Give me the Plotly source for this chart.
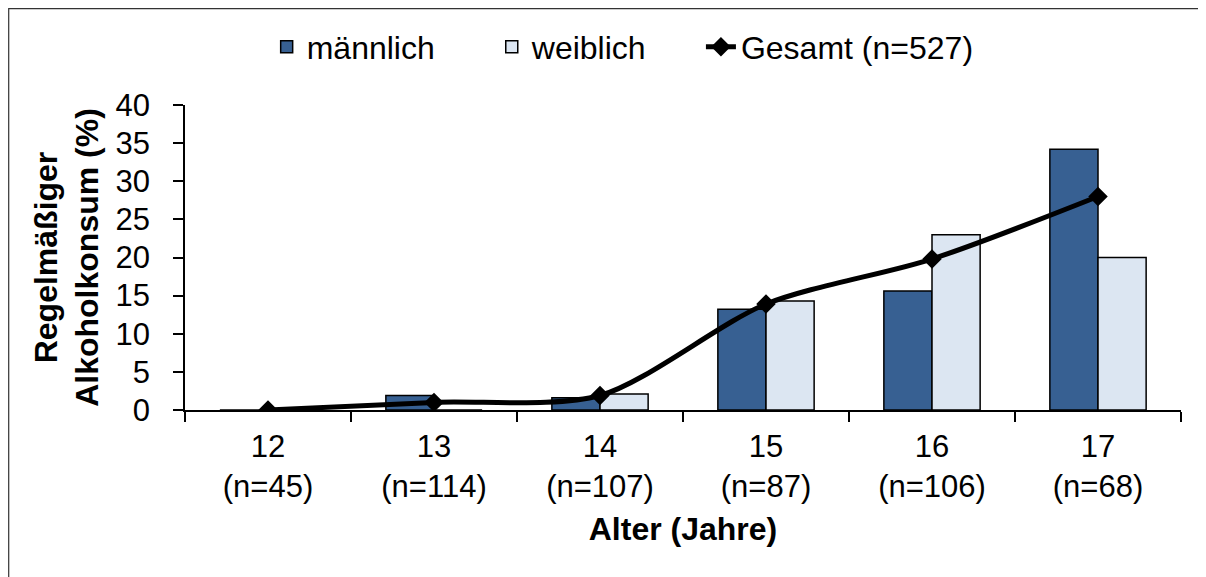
import plotly.graph_objects as go

ages = ["12", "13", "14", "15", "16", "17"]
n_per_age = [45, 114, 107, 87, 106, 68]
maennlich = [0.0, 1.9, 1.6, 13.2, 15.6, 34.2]
weiblich = [0.0, 0.0, 2.1, 14.3, 23.0, 20.0]
gesamt = [0.0, 1.0, 1.9, 13.9, 19.8, 28.0]
gesamt_n = 527

cats = [f"{a}<br>(n={n})" for a, n in zip(ages, n_per_age)]

FONT = "Liberation Sans, Arial, sans-serif"

fig = go.Figure()
fig.add_trace(go.Bar(
    x=cats, y=maennlich, name="männlich", legend="legend",
    marker=dict(color="#376092", line=dict(color="#000000", width=1.5)),
))
fig.add_trace(go.Bar(
    x=cats, y=weiblich, name="weiblich", legend="legend2",
    marker=dict(color="#DCE6F2", line=dict(color="#000000", width=1.5)),
))
fig.add_trace(go.Scatter(
    x=cats, y=gesamt, name=f"Gesamt (n={gesamt_n})", legend="legend3",
    mode="lines+markers",
    line=dict(color="#000000", width=5, shape="spline", smoothing=0.8),
    marker=dict(symbol="diamond", size=15, color="#000000"),
))

leg_common = dict(
    orientation="h", y=1.19, yanchor="middle",
    font=dict(size=32), bgcolor="rgba(0,0,0,0)", xanchor="left",
)

fig.update_layout(
    width=1198, height=569,
    margin=dict(l=177, r=25, t=97, b=167),
    paper_bgcolor="#FFFFFF", plot_bgcolor="#FFFFFF",
    font=dict(family=FONT, size=31, color="#000000"),
    barmode="group", bargap=0.42, bargroupgap=0,
    showlegend=True,
    legend=dict(x=0.082, **leg_common),
    legend2=dict(x=0.308, **leg_common),
    legend3=dict(x=0.518, **leg_common),
    shapes=[dict(
        type="rect", xref="paper", yref="paper",
        x0=-0.1770, x1=1.05, y0=-0.65, y1=1.3157,
        line=dict(color="#333333", width=1.2), fillcolor="rgba(0,0,0,0)", layer="below",
    )],
)

fig.update_xaxes(
    type="category",
    showline=True, linecolor="#000000", linewidth=1.5,
    ticks="outside", tickson="boundaries", ticklen=10, tickcolor="#000000", tickwidth=1.5,
    showgrid=False, zeroline=False,
    tickfont=dict(size=31), ticklabelstandoff=8,
    title=dict(text="<b>Alter (Jahre)</b>", font=dict(size=32), standoff=14),
    automargin=False,
)
fig.update_yaxes(
    range=[0, 40], dtick=5,
    showline=True, linecolor="#000000", linewidth=1.5,
    ticks="outside", ticklen=10, tickcolor="#000000", tickwidth=1.5,
    showgrid=False, zeroline=False,
    tickfont=dict(size=31), ticklabelstandoff=17,
    title=dict(text="<b>Regelmäßiger<br>Alkoholkonsum (%)</b>", font=dict(size=32), standoff=7),
    automargin=False,
)

fig.write_html("out.html")
